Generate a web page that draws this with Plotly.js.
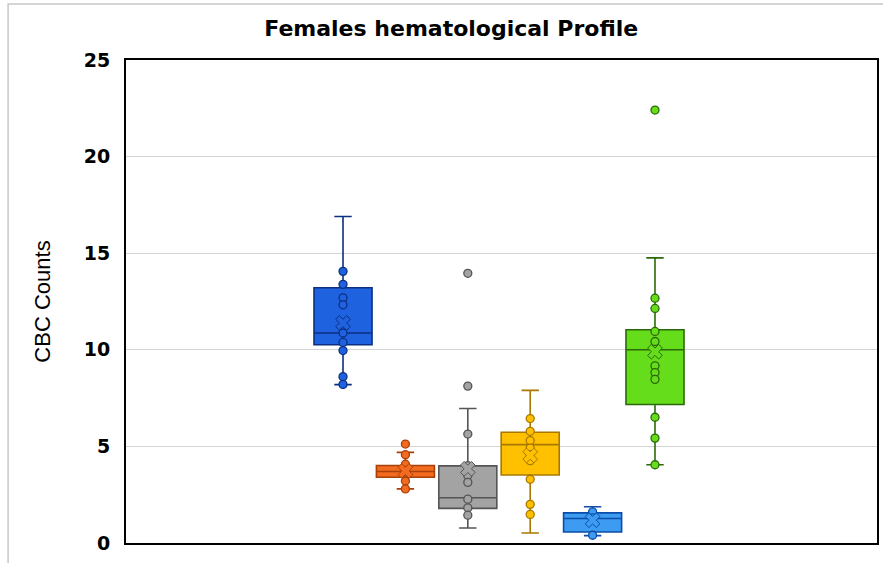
<!DOCTYPE html>
<html>
<head>
<meta charset="utf-8">
<script src="https://cdn.plot.ly/plotly-3.0.1.min.js"></script>
<style>html,body{margin:0;padding:0;background:#fff;}#chart{width:883px;height:563px;}</style>
</head>
<body>
<div id="chart"></div>
<script>
// Six series (one category)
const seriesNames = ["S1", "S2", "S3", "S4", "S5", "S6"];
const q1Values     = [10.26, 3.40, 1.79, 3.52, 0.57, 7.17];
const medianValues = [10.87, 3.70, 2.34, 5.09, 1.27, 10.00];
const q3Values     = [13.21, 4.01, 3.99, 5.73, 1.56, 11.04];
const lowerWhisker = [8.20, 2.80, 0.78, 0.52, 0.38, 4.05];
const upperWhisker = [16.90, 4.69, 6.96, 7.90, 1.88, 14.76];
const meanValues   = [11.39, 3.73, 3.84, 4.53, 1.18, 9.90];
const pointValues = [
  [14.06, 13.39, 12.69, 12.33, 10.87, 10.38, 9.96, 8.61, 8.21],
  [5.12, 4.57, 4.08, 3.75, 3.21, 2.80],
  [13.96, 8.12, 5.64, 4.00, 3.49, 3.14, 2.27, 1.82, 1.44],
  [6.44, 5.78, 5.30, 4.91, 4.57, 4.26, 3.30, 2.00, 1.48],
  [1.61, 1.30, 0.40],
  [22.41, 12.67, 12.14, 10.95, 10.43, 9.17, 8.82, 8.47, 6.51, 5.43, 4.05]
];
const yTickValues = [0, 5, 10, 15, 20, 25];

// styles
const fillColors = ["#1f62e0", "#f26b1f", "#a3a3a3", "#ffc000", "#3d9bf2", "#66dd1b"];
const lineColors = ["#0c2f80", "#a8400a", "#555555", "#a87800", "#0b4da8", "#2a6a0a"];

const traces = [];
seriesNames.forEach((name, i) => {
  traces.push({
    type: "box", name: name, x: [i],
    q1: [q1Values[i]], median: [medianValues[i]], q3: [q3Values[i]],
    lowerfence: [lowerWhisker[i]], upperfence: [upperWhisker[i]],
    width: 0.93, whiskerwidth: 0.3,
    fillcolor: fillColors[i],
    line: {color: lineColors[i], width: 1.6},
    boxpoints: false, hoverinfo: "skip", showlegend: false
  });
});
seriesNames.forEach((name, i) => {
  traces.push({
    type: "scatter", mode: "markers", name: name + " points",
    x: pointValues[i].map(() => i), y: pointValues[i],
    marker: {symbol: "circle", size: 8, color: fillColors[i], line: {color: lineColors[i], width: 1.3}},
    hoverinfo: "skip", showlegend: false
  });
  traces.push({
    type: "scatter", mode: "markers", name: name + " mean",
    x: [i], y: [meanValues[i]],
    marker: {symbol: "x", size: 13, color: fillColors[i], line: {color: lineColors[i], width: 1}},
    hoverinfo: "skip", showlegend: false
  });
});

const layout = {
  width: 883, height: 563,
  margin: {l: 126, r: 6, t: 60, b: 20},
  paper_bgcolor: "#ffffff", plot_bgcolor: "#ffffff",
  title: {
    text: "<b>Females hematological Profile</b>",
    font: {family: "DejaVu Sans, Verdana, sans-serif", size: 22, color: "#000"},
    x: 0.511, xref: "container", xanchor: "center",
    y: 0.95, yref: "container", yanchor: "middle"
  },
  xaxis: {
    range: [-3.478, 8.558], showticklabels: false, showgrid: false, zeroline: false,
    showline: true, linecolor: "#000", linewidth: 2, mirror: true, ticks: ""
  },
  yaxis: {
    range: [0, 25], tickvals: yTickValues, showgrid: true, gridcolor: "#d4d4d4", gridwidth: 1,
    zeroline: false, showline: true, linecolor: "#000", linewidth: 2, mirror: true,
    ticks: "outside", ticklen: 10, tickcolor: "rgba(0,0,0,0)",
    tickfont: {family: "DejaVu Sans, Verdana, sans-serif", size: 19, color: "#000", weight: "bold"},
    title: {
      text: "CBC Counts",
      font: {family: "Liberation Sans, Arial, sans-serif", size: 22, color: "#000"},
      standoff: 27
    }
  },
  shapes: [{
    type: "rect", xref: "paper", yref: "paper",
    x0: -0.157, x1: 1.06, y0: -0.08, y1: 1.116,
    line: {color: "#c8c8c8", width: 1.5}, fillcolor: "rgba(0,0,0,0)", layer: "below"
  }]
};

Plotly.newPlot("chart", traces, layout, {staticPlot: true, displayModeBar: false});
</script>
</body>
</html>
